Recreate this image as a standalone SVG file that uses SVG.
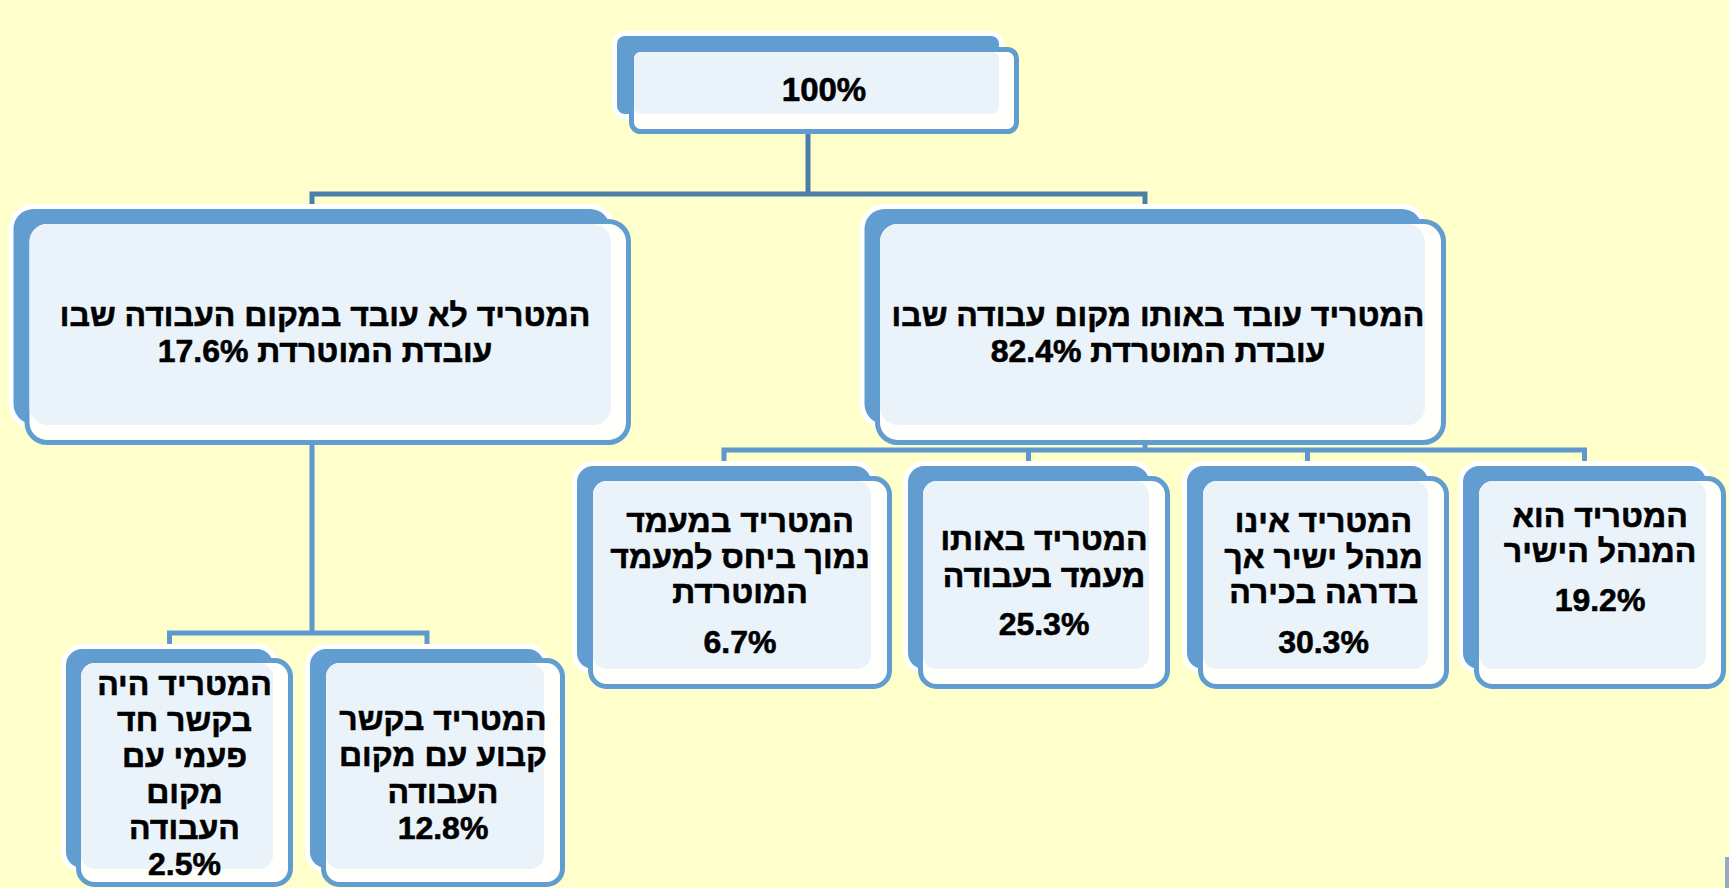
<svg xmlns="http://www.w3.org/2000/svg" width="1729" height="888" viewBox="0 0 1729 888">
<style>
.back{fill:#629DD1;stroke:#FFFFFF;stroke-width:10;paint-order:stroke}
.front{fill:#FFFFFB;stroke:#629DD1;stroke-width:5}
.light{fill:#EBF3FA}
.t{font-family:"Liberation Sans",Arial,"DejaVu Sans",sans-serif;font-weight:bold;font-size:32px;text-anchor:middle;direction:rtl;fill:#000;stroke:#000;stroke-width:0.6;stroke-linejoin:round}
.c1{fill:none;stroke:#4D7EAA;stroke-width:5}
.c2{fill:none;stroke:#5E98CC;stroke-width:5}
</style>
<rect x="0" y="0" width="1729" height="888" fill="#FFFFCC"/>
<g id="connectors">
<path class="c1" d="M808,134 V194"/>
<path class="c1" d="M312,212 V194 H1145 V212"/>
<path class="c2" d="M312,445 V633"/>
<path class="c2" d="M169.5,652 V633 H427 V652"/>
<path class="c2" d="M1145,445 V450"/>
<path class="c2" d="M724,470 V450 H1584.5 V470 M1028.5,450 V470 M1307.5,450 V470"/>
</g>
<g id="node-top">
<rect class="back" x="617" y="36" width="382" height="78" rx="8"/>
<rect class="front" x="631.5" y="49.5" width="385" height="82" rx="9"/>
<rect class="light" x="634" y="52" width="365" height="62" rx="7"/>
<text class="t" x="824" y="101" style="font-size:33px">100%</text>
</g>
<g id="node-left">
<rect class="back" x="13.5" y="209" width="596.5" height="215" rx="20"/>
<rect class="front" x="27" y="221.5" width="601.5" height="221" rx="20"/>
<rect class="light" x="29.5" y="224" width="581.5" height="201" rx="18"/>
<text class="t" x="325" y="326">המטריד לא עובד במקום העבודה שבו</text>
<text class="t" x="325" y="362">עובדת המוטרדת 17.6%</text>
</g>
<g id="node-right">
<rect class="back" x="864.5" y="209" width="557.5" height="215" rx="20"/>
<rect class="front" x="877.5" y="221.5" width="566" height="221" rx="20"/>
<rect class="light" x="880" y="224" width="545" height="201" rx="18"/>
<text class="t" x="1158" y="326">המטריד עובד באותו מקום עבודה שבו</text>
<text class="t" x="1158" y="362">עובדת המוטרדת 82.4%</text>
</g>
<g id="node-c">
<rect class="back" x="577" y="466" width="294" height="203" rx="16"/>
<rect class="front" x="590.5" y="478.5" width="299" height="208" rx="16"/>
<rect class="light" x="593" y="481" width="278" height="188" rx="14"/>
<text class="t" x="740" y="532">המטריד במעמד</text>
<text class="t" x="740" y="568">נמוך ביחס למעמד</text>
<text class="t" x="740" y="603">המוטרדת</text>
<text class="t" x="740" y="653">6.7%</text>
</g>
<g id="node-d">
<rect class="back" x="908" y="466" width="241" height="203" rx="16"/>
<rect class="front" x="920.5" y="478.5" width="247" height="208" rx="16"/>
<rect class="light" x="923" y="481" width="226" height="188" rx="14"/>
<text class="t" x="1044" y="550">המטריד באותו</text>
<text class="t" x="1044" y="587">מעמד בעבודה</text>
<text class="t" x="1044" y="635">25.3%</text>
</g>
<g id="node-e">
<rect class="back" x="1187" y="466" width="241" height="203" rx="16"/>
<rect class="front" x="1200.5" y="478.5" width="246" height="208" rx="16"/>
<rect class="light" x="1203" y="481" width="225" height="188" rx="14"/>
<text class="t" x="1323.5" y="532">המטריד אינו</text>
<text class="t" x="1323.5" y="568">מנהל ישיר אך</text>
<text class="t" x="1323.5" y="603">בדרגה בכירה</text>
<text class="t" x="1323.5" y="653">30.3%</text>
</g>
<g id="node-f">
<rect class="back" x="1463" y="466" width="243" height="203" rx="16"/>
<rect class="front" x="1476.5" y="478.5" width="247" height="208" rx="16"/>
<rect class="light" x="1479" y="481" width="227" height="188" rx="14"/>
<text class="t" x="1600" y="527">המטריד הוא</text>
<text class="t" x="1600" y="562">המנהל הישיר</text>
<text class="t" x="1600" y="611">19.2%</text>
</g>
<g id="node-a">
<rect class="back" x="66" y="649" width="207" height="219" rx="16"/>
<rect class="front" x="78.5" y="660.5" width="212" height="224" rx="16"/>
<rect class="light" x="81" y="663" width="192" height="206" rx="14"/>
<text class="t" x="184.5" y="695">המטריד היה</text>
<text class="t" x="184.5" y="731">בקשר חד</text>
<text class="t" x="184.5" y="767">פעמי עם</text>
<text class="t" x="184.5" y="803">מקום</text>
<text class="t" x="184.5" y="839">העבודה</text>
<text class="t" x="184.5" y="875">2.5%</text>
</g>
<g id="node-b">
<rect class="back" x="310" y="649" width="234" height="219" rx="16"/>
<rect class="front" x="323.5" y="660.5" width="239" height="224" rx="16"/>
<rect class="light" x="326" y="663" width="218" height="206" rx="14"/>
<text class="t" x="443" y="730">המטריד בקשר</text>
<text class="t" x="443" y="766">קבוע עם מקום</text>
<text class="t" x="443" y="803">העבודה</text>
<text class="t" x="443" y="839">12.8%</text>
</g>
<rect x="1725" y="857" width="4" height="31" fill="#99A8C2"/>
</svg>
